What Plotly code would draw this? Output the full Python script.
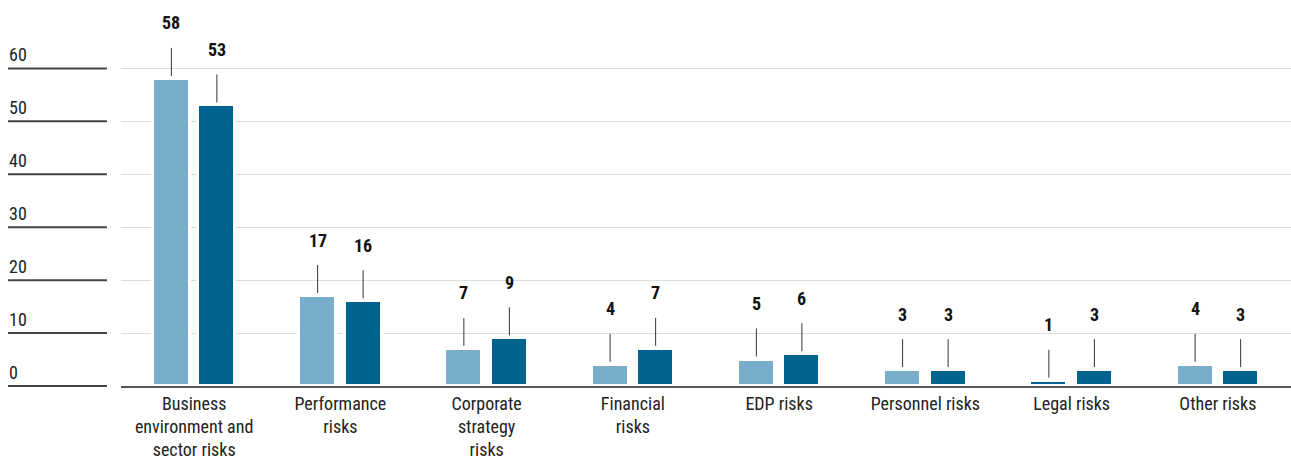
import plotly.graph_objects as go

categories = ["Business<br>environment and<br>sector risks", "Performance<br>risks",
              "Corporate<br>strategy<br>risks", "Financial<br>risks", "EDP risks",
              "Personnel risks", "Legal risks", "Other risks"]
series_a = [58, 17, 7, 4, 5, 3, 1, 4]   # light bars
series_b = [53, 16, 9, 7, 6, 3, 3, 3]   # dark bars
y_ticks = [0, 10, 20, 30, 40, 50, 60]

LIGHT = "#78aecb"
DARK = "#00628f"
FONT = "Liberation Sans Narrow, Roboto Condensed, DejaVu Sans Condensed, Roboto, sans-serif"

W, H = 1291, 463
ML, MR, MT, MB = 121, 0, 34, 77
YR = [0, 66.5]
BW = 0.254
HALF = 0.1556

idx = list(range(len(categories)))
colors_a = [LIGHT] * len(series_a)
colors_a[6] = DARK  # the reference shows this small bar in the dark colour

fig = go.Figure()
fig.add_trace(go.Bar(x=idx, y=series_a, width=BW, offset=-HALF - BW / 2,
                     marker=dict(color=colors_a, line=dict(color="white", width=3)),
                     showlegend=False, hoverinfo="y"))
fig.add_trace(go.Bar(x=idx, y=series_b, width=BW, offset=HALF - BW / 2,
                     marker=dict(color=DARK, line=dict(color="white", width=3)),
                     showlegend=False, hoverinfo="y"))

shapes = []
annotations = []
for i in idx:
    for pos, val in ((i - HALF, series_a[i]), (i + HALF, series_b[i])):
        shapes.append(dict(type="line", xref="x", yref="y", ysizemode="pixel",
                           yanchor=val, y0=3, y1=31, x0=pos, x1=pos,
                           line=dict(color="#333333", width=1)))
        annotations.append(dict(x=pos, y=val, xref="x", yref="y", yshift=56,
                                text="<b>%d</b>" % val, showarrow=False,
                                font=dict(family=FONT, size=18, color="#111111")))

plot_w = W - ML - MR
def px_to_paper_x(px):
    return (px - ML) / plot_w

def yfrac(v):
    return (v - YR[0]) / (YR[1] - YR[0])

for t in y_ticks:
    shapes.append(dict(type="line", xref="paper", yref="paper",
                       x0=px_to_paper_x(8), x1=px_to_paper_x(107),
                       y0=yfrac(t), y1=yfrac(t),
                       line=dict(color="#444444", width=2)))
    annotations.append(dict(x=px_to_paper_x(7), y=yfrac(t), xref="paper", yref="paper",
                            xanchor="left", yanchor="bottom", yshift=1,
                            text=str(t), showarrow=False,
                            font=dict(family=FONT, size=18, color="#222222")))

fig.update_layout(
    width=W, height=H,
    margin=dict(l=ML, r=MR, t=MT, b=MB),
    plot_bgcolor="white", paper_bgcolor="white",
    bargap=0,
    shapes=shapes, annotations=annotations,
    xaxis=dict(range=[-0.5, len(categories) - 0.5], tickvals=idx, ticktext=categories,
               showgrid=False, zeroline=False, showline=True, linecolor="#555555",
               linewidth=2, ticks="", tickfont=dict(family=FONT, size=18, color="#222222"),
               fixedrange=True),
    yaxis=dict(range=YR, tickvals=y_ticks[1:], showticklabels=False, showgrid=True,
               gridcolor="#dddddd", gridwidth=1, zeroline=False, showline=False,
               fixedrange=True),
)

fig.write_html("out.html", config={"displayModeBar": False},
               post_script="document.body.style.margin='0';document.body.style.overflow='hidden';")
